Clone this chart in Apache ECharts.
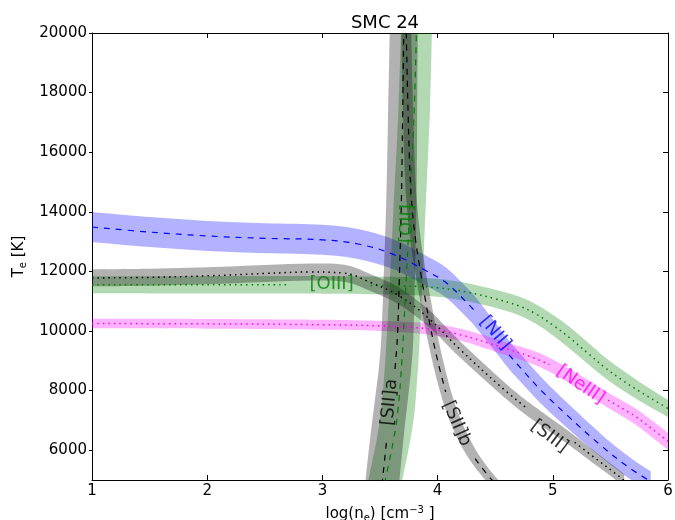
<!DOCTYPE html>
<html><head><meta charset="utf-8">
<script src="https://cdn.jsdelivr.net/npm/echarts@6/dist/echarts.min.js"></script>
<style>html,body{margin:0;padding:0;background:#fff}#c{width:675px;height:520px}</style>
</head><body><div id="c"></div>
<script>
// ---- data: points (log n_e, T_e) along each diagnostic curve ----
const xTicks = [1, 2, 3, 4, 5, 6];
const yTicks = [6000, 8000, 10000, 12000, 14000, 16000, 18000, 20000];

const nii = [[1,13490],[1.5,13320],[2,13190],[2.5,13110],[3.0,13060],[3.32,12910],[3.61,12580],[3.9,12020],[4.08,11600],[4.28,10850],[4.32,10680],[4.47,9950],[4.62,9200],[4.73,8720],[4.9,8000],[5.13,7150],[5.42,6150],[5.65,5450],[5.85,4950]];
const oiii = [[1,11550],[1.5,11550],[2,11550],[2.72,11550],[3.08,11545],[3.42,11530],[3.8,11500],[4.0,11450],[4.26,11300],[4.5,11080],[4.7,10850],[4.85,10580],[5.0,10200],[5.15,9760],[5.3,9270],[5.45,8780],[5.6,8360],[5.75,7980],[5.9,7630],[6.0,7400]];
const neiii = [[1,10250],[2,10240],[3,10210],[3.5,10170],[3.9,10080],[4.2,9870],[4.55,9460],[4.8,9150],[4.97,8870],[5.1,8590],[5.25,8240],[5.35,8000],[5.48,7680],[5.71,7150],[5.85,6750],[6.0,6300]];
const siii = [[1,11780],[1.5,11800],[2,11850],[2.5,11930],[2.9,11980],[3.19,11940],[3.41,11640],[3.67,11170],[3.93,10400],[4.19,9400],[4.54,8160],[4.76,7450],[4.9,7060],[5.05,6650],[5.19,6260],[5.4,5640],[5.58,5110],[5.62,4980]];
const oii = [[3.537,4877],[3.554,5145],[3.619,6384],[3.657,7388],[3.691,9062],[3.710,10401],[3.732,12075],[3.741,12745],[3.760,14419],[3.767,14921],[3.797,17432],[3.816,20010]];
const siia = [[3.517,4843],[3.523,5044],[3.559,6384],[3.600,7723],[3.630,8727],[3.650,9732],[3.665,11406],[3.686,14419],[3.696,17096],[3.706,20010]];
const siib = [[3.728,20010],[3.741,17767],[3.756,15758],[3.773,14419],[3.808,13080],[3.858,11841],[3.893,11071],[3.936,10167],[3.997,9062],[4.070,7957],[4.148,7053],[4.226,6384],[4.326,5714],[4.461,5044],[4.513,4877]];

// label gaps in the centre lines (x range for flat curves, T range for steep ones)
const niiGapX = [4.32, 4.62];
const oiiiGapX = [2.72, 3.42];
const neiiiGapX = [4.97, 5.48];
const siiiGapX = [4.76, 5.19];
const oiiGapY = [12745, 14419];
const siiaGapY = [6384, 8727];
const siibGapY = [5714, 7957];

const labelText = ['[OIII]', '[OII]', '[SII]a', '[SII]b', '[SIII]', '[NII]', '[NeIII]'];
const labelX    = [3.08, 3.738, 3.585, 4.165, 4.97, 4.50, 5.24];
const labelY    = [11573, 13600, 7610, 6890, 6460, 9930, 8190];

// ---- styling ----
const FONT = 'DejaVu Sans';
// band thickness in px (vertical for flat curves, horizontal for steep ones), as knots along the curve
const curves = [
  {d: nii,   gap: niiGapX,   ax: 0, c: '#0000ff', wk: [[1,30],[4.3,30],[4.7,28],[5.9,20]], dash: [6, 6], lw: 1.2},
  {d: neiii, gap: neiiiGapX, ax: 0, c: '#ff00ff', wk: [[1,9.5],[3.5,10],[4.2,12],[5.0,14],[6,17]], dash: [1.5, 4], lw: 1.5},
  {d: oiii,  gap: oiiiGapX,  ax: 0, c: '#008000', wk: [[1,17],[4.6,18],[5.2,22],[5.6,20],[6,17]], dash: [1.5, 4], lw: 1.5},
  {d: siii,  gap: siiiGapX,  ax: 0, c: '#000000', wk: [[1,17],[3.2,17],[4.0,17],[5.7,12]], dash: [1.5, 4], lw: 1.5},
  {d: oii,   gap: oiiGapY,   ax: 1, c: '#008000', wk: [[4800,34],[20100,31]], dash: [6, 6], lw: 1.2},
  {d: siia,  gap: siiaGapY,  ax: 1, c: '#000000', wk: [[4800,34],[20100,28]], dash: [6, 6], lw: 1.2},
  {d: siib,  gap: siibGapY,  ax: 1, c: '#000000', wk: [[4800,13],[8000,11],[20100,10]], dash: [6, 6], lw: 1.2}
];
const labelColor = ['#008000', '#008000', '#000000', '#000000', '#000000', '#0000ff', '#ff00ff'];
const labelRot   = [0, 88, 85, -66, -37, -50, -35];

function knot(wk, t) {
  const k = wk.slice().sort((a, b) => a[0] - b[0]);
  if (t <= k[0][0]) return k[0][1];
  for (let i = 1; i < k.length; i++) {
    if (t <= k[i][0]) {
      const f = (t - k[i-1][0]) / (k[i][0] - k[i-1][0]);
      return k[i-1][1] + f * (k[i][1] - k[i-1][1]);
    }
  }
  return k[k.length - 1][1];
}
function splinePath(pts, cmd) {
  let d = cmd + pts[0][0].toFixed(2) + ' ' + pts[0][1].toFixed(2);
  const k = 1 / 6;
  for (let i = 0; i < pts.length - 1; i++) {
    const p0 = pts[i - 1] || pts[i], p1 = pts[i], p2 = pts[i + 1], p3 = pts[i + 2] || pts[i + 1];
    const c1 = [p1[0] + (p2[0] - p0[0]) * k, p1[1] + (p2[1] - p0[1]) * k];
    const c2 = [p2[0] - (p3[0] - p1[0]) * k, p2[1] - (p3[1] - p1[1]) * k];
    d += ' C' + c1[0].toFixed(2) + ' ' + c1[1].toFixed(2) + ' ' + c2[0].toFixed(2) + ' ' + c2[1].toFixed(2) +
         ' ' + p2[0].toFixed(2) + ' ' + p2[1].toFixed(2);
  }
  return d;
}

const series = [];
curves.forEach(cv => {
  series.push({
    type: 'custom', coordinateSystem: 'cartesian2d', xAxisIndex: 0, yAxisIndex: 0,
    clip: true, silent: true, z: 2, data: [[cv.d[0][0], cv.d[0][1]]],
    renderItem: (params, api) => {
      const up = [], lo = [];
      cv.d.forEach(p => {
        const q = api.coord(p);
        const h = knot(cv.wk, p[cv.ax]) / 2;
        if (cv.ax === 0) { up.push([q[0], q[1] - h]); lo.push([q[0], q[1] + h]); }
        else { up.push([q[0] - h, q[1]]); lo.push([q[0] + h, q[1]]); }
      });
      const pathData = splinePath(up, 'M') + ' ' + splinePath(lo.reverse(), 'L') + ' Z';
      return {type: 'path', shape: {pathData: pathData}, style: {fill: cv.c, opacity: 0.3, stroke: null}};
    }
  });
});
curves.forEach(cv => {
  const data = cv.d.map(p => (p[cv.ax] > cv.gap[0] && p[cv.ax] < cv.gap[1]) ? ['-', '-'] : p);
  series.push({
    type: 'line', data: data, symbol: 'none', smooth: 0.4, silent: true, connectNulls: false,
    lineStyle: {color: cv.c, width: cv.lw, type: cv.dash}, z: 3, clip: true
  });
});
series.push({
  type: 'scatter', symbolSize: 0, silent: true, z: 5,
  label: {show: true, position: 'inside', fontSize: 18, fontFamily: FONT},
  data: labelText.map((t, i) => ({
    value: [labelX[i], labelY[i]],
    label: {formatter: t, color: labelColor[i], rotate: labelRot[i]}
  }))
});

const axisCommon = {
  type: 'value', splitLine: {show: false},
  axisLine: {show: true, onZero: false, lineStyle: {color: '#000', width: 1}}
};

const chart = echarts.init(document.getElementById('c'), null, {renderer: 'canvas'});
chart.setOption({
  animation: false,
  backgroundColor: '#fff',
  title: {text: 'SMC 24', left: 380, top: 9, textAlign: 'center',
          textStyle: {fontSize: 18, fontWeight: 'normal', color: '#000', fontFamily: FONT}},
  grid: {left: 92, right: 7, top: 33, bottom: 40, containLabel: false, outerBoundsMode: 'none'},
  xAxis: [
    Object.assign({}, axisCommon, {
      min: 1, max: 6, interval: 1, position: 'bottom',
      axisTick: {show: true, inside: true, length: 5, customValues: xTicks, lineStyle: {color: '#000'}},
      axisLabel: {margin: 4, fontSize: 15, color: '#000', fontFamily: FONT, customValues: xTicks,
                  formatter: v => String(v)},
      name: 'log(n{sub|e}) [cm{sup|−3} ]', nameLocation: 'middle', nameGap: 25,
      nameTextStyle: {fontSize: 15, color: '#000', fontFamily: FONT,
        rich: {sub: {fontSize: 10, verticalAlign: 'bottom', padding: [8, 0, 0, 0], fontFamily: FONT},
               sup: {fontSize: 10, verticalAlign: 'top', padding: [0, 0, 8, 0], fontFamily: FONT}}}
    }),
    Object.assign({}, axisCommon, {
      min: 1, max: 6, interval: 1, position: 'top',
      axisTick: {show: true, inside: true, length: 5, customValues: xTicks, lineStyle: {color: '#000'}},
      axisLabel: {show: false}
    })
  ],
  yAxis: [
    Object.assign({}, axisCommon, {
      min: 5000, max: 20000, position: 'left',
      axisTick: {show: true, inside: false, length: 3, customValues: yTicks, lineStyle: {color: '#000'}},
      axisLabel: {margin: 5, fontSize: 15, color: '#000', fontFamily: FONT, customValues: yTicks,
                  formatter: v => String(v)},
      name: 'T{sub|e} [K]', nameLocation: 'middle', nameGap: 57, nameRotate: 90,
      nameTextStyle: {fontSize: 15, color: '#000', fontFamily: FONT,
        rich: {sub: {fontSize: 10, verticalAlign: 'bottom', padding: [8, 0, 0, 0], fontFamily: FONT}}}
    }),
    Object.assign({}, axisCommon, {
      min: 5000, max: 20000, position: 'right',
      axisTick: {show: true, inside: true, length: 5, customValues: yTicks, lineStyle: {color: '#000'}},
      axisLabel: {show: false}
    })
  ],
  series: series
});
</script>
</body></html>
